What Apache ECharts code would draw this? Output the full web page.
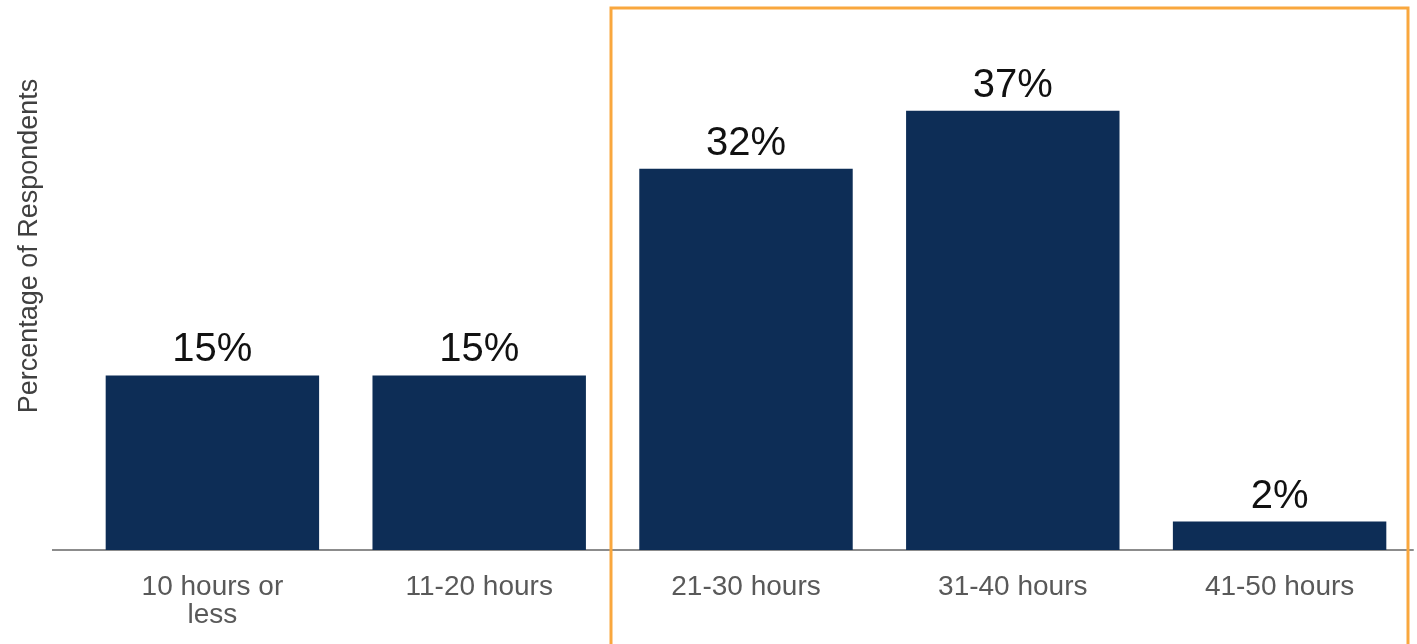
<!DOCTYPE html>
<html>
<head>
<meta charset="utf-8">
<title>Percentage of Respondents</title>
<script src="https://cdn.jsdelivr.net/npm/echarts@6/dist/echarts.min.js"></script>
<style>
    html, body { margin: 0; padding: 0; background: #fff; }
    #chart { width: 1417px; height: 644px; }
</style>
</head>
<body>
<div id="chart"></div>
<script>
// data (bar heights), labels are the rounded values
const categories = ['10 hours or\nless', '11-20 hours', '21-30 hours', '31-40 hours', '41-50 hours'];
const percentValues = [14.7, 14.7, 32.1, 37, 2.4];
const yTitle = 'Percentage of Respondents';

const chart = echarts.init(document.getElementById('chart'));

const option = {
    animation: false,
    textStyle: { fontFamily: 'Liberation Sans, Arial, sans-serif' },
    grid: { left: 79, right: 4, top: 75, bottom: 94 },
    xAxis: {
        type: 'category',
        data: categories,
        axisLine: { show: true, lineStyle: { color: '#8c8c8c', width: 2 } },
        axisTick: { show: false },
        axisLabel: {
            color: '#595959',
            fontSize: 28,
            lineHeight: 28,
            margin: 23,
            interval: 0
        }
    },
    yAxis: {
        type: 'value',
        min: 0,
        max: 40,
        show: false,
        splitLine: { show: false }
    },
    series: [
        {
            type: 'bar',
            data: percentValues,
            barWidth: '80%',
            itemStyle: { color: '#0d2d56' },
            label: {
                show: true,
                position: 'top',
                distance: 5,
                color: '#111',
                fontSize: 40,
                formatter: p => Math.round(p.value) + '%'
            }
        }
    ],
    graphic: [
        // axis line runs a bit further left than the plot area
        {
            type: 'line',
            shape: { x1: 52, y1: 550, x2: 80, y2: 550 },
            style: { stroke: '#8c8c8c', lineWidth: 2 }
        },
        {
            type: 'text',
            x: 30,
            y: 246,
            rotation: Math.PI / 2,
            style: {
                text: yTitle,
                fill: '#404040',
                fontSize: 27,
                fontFamily: 'Liberation Sans, Arial, sans-serif',
                align: 'center',
                verticalAlign: 'middle'
            }
        },
        // orange highlight box around the last three groups
        {
            type: 'rect',
            shape: { x: 611, y: 8, width: 797, height: 660 },
            style: { fill: 'none', stroke: '#f9a73e', lineWidth: 3 },
            z: 10
        }
    ]
};

chart.setOption(option);
</script>
</body>
</html>
